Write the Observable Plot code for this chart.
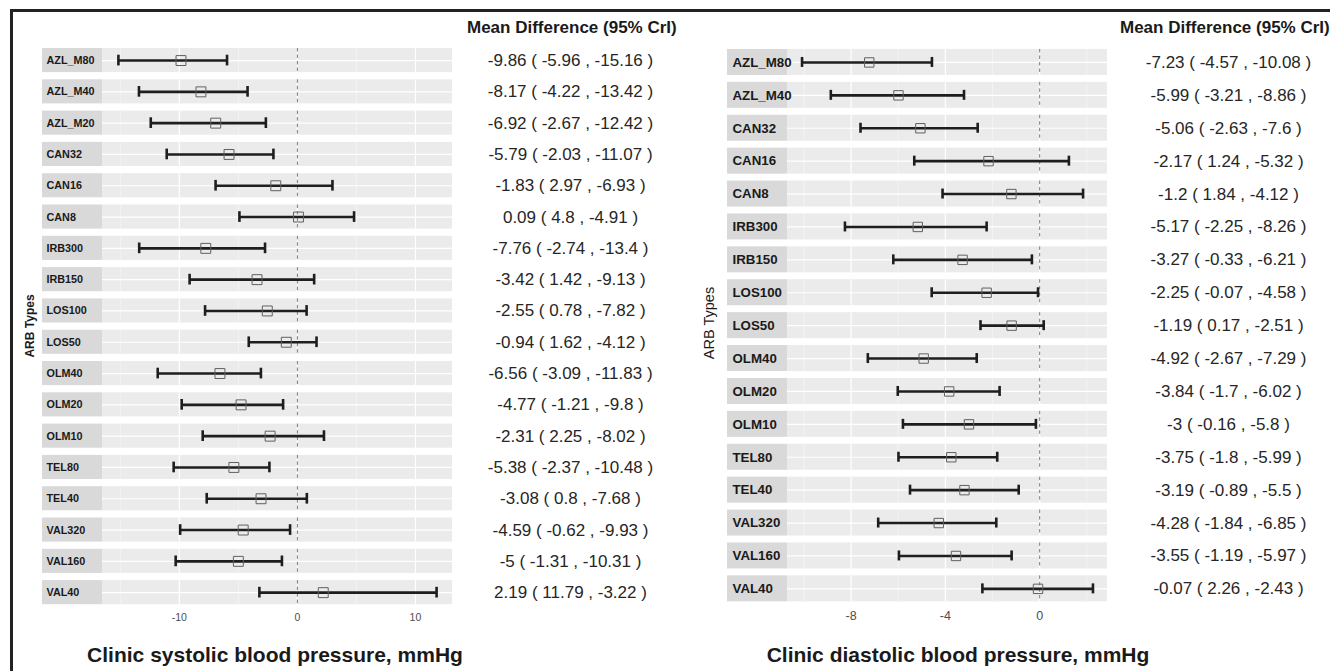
<!DOCTYPE html>
<html>
<head>
<meta charset="utf-8">
<script src="https://cdn.jsdelivr.net/npm/d3@7"></script>
<script src="https://cdn.jsdelivr.net/npm/@observablehq/plot@0.6"></script>
<style>
  body { margin: 0; background: #fff; font-family: "Liberation Sans", Arial, sans-serif; }
  #root { position: relative; width: 1330px; height: 671px; overflow: hidden; background: #fff; }
  .abs { position: absolute; }
  .frame { position: absolute; left: 10px; top: 9px; width: 1400px; height: 800px;
           border-top: 3px solid #222; border-left: 3px solid #222; box-sizing: border-box; }
  .hdr { position: absolute; font-weight: bold; font-size: 17px; line-height: 1; color: #1a1a1a; white-space: nowrap; }
  .ttl { position: absolute; font-weight: bold; font-size: 21px; line-height: 1; color: #1a1a1a; white-space: nowrap; transform: translateX(-50%); }
  .ylab { position: absolute; white-space: nowrap; line-height: 1; color: #1a1a1a; transform: translate(-50%, -50%) rotate(-90deg); }
</style>
</head>
<body>
<div id="root">
  <div class="frame"></div>
</div>
<script>
// ---------------- data ----------------
const sysNames = ["AZL_M80","AZL_M40","AZL_M20","CAN32","CAN16","CAN8","IRB300","IRB150","LOS100","LOS50","OLM40","OLM20","OLM10","TEL80","TEL40","VAL320","VAL160","VAL40"];
const sysMean  = [-9.86,-8.17,-6.92,-5.79,-1.83,0.09,-7.76,-3.42,-2.55,-0.94,-6.56,-4.77,-2.31,-5.38,-3.08,-4.59,-5,2.19];
const sysUpper = [-5.96,-4.22,-2.67,-2.03,2.97,4.8,-2.74,1.42,0.78,1.62,-3.09,-1.21,2.25,-2.37,0.8,-0.62,-1.31,11.79];
const sysLower = [-15.16,-13.42,-12.42,-11.07,-6.93,-4.91,-13.4,-9.13,-7.82,-4.12,-11.83,-9.8,-8.02,-10.48,-7.68,-9.93,-10.31,-3.22];
const sysTicks = [-10, 0, 10];
const sysMinor = [-15, -5, 5, 15];

const diaNames = ["AZL_M80","AZL_M40","CAN32","CAN16","CAN8","IRB300","IRB150","LOS100","LOS50","OLM40","OLM20","OLM10","TEL80","TEL40","VAL320","VAL160","VAL40"];
const diaMean  = [-7.23,-5.99,-5.06,-2.17,-1.2,-5.17,-3.27,-2.25,-1.19,-4.92,-3.84,-3,-3.75,-3.19,-4.28,-3.55,-0.07];
const diaUpper = [-4.57,-3.21,-2.63,1.24,1.84,-2.25,-0.33,-0.07,0.17,-2.67,-1.7,-0.16,-1.8,-0.89,-1.84,-1.19,2.26];
const diaLower = [-10.08,-8.86,-7.6,-5.32,-4.12,-8.26,-6.21,-4.58,-2.51,-7.29,-6.02,-5.8,-5.99,-5.5,-6.85,-5.97,-2.43];
const diaTicks = [-8, -4, 0];
const diaMinor = [-10, -6, -2, 2];

const refValue = 0;
const columnHeader = "Mean Difference (95% CrI)";
const yTitle = "ARB Types";
const sysTitle = "Clinic systolic blood pressure, mmHg";
const diaTitle = "Clinic diastolic blood pressure, mmHg";

// ---------------- drawing ----------------
const FONT = '"Liberation Sans", Arial, sans-serif';
const root = document.getElementById("root");

function place(el, left, top, z) {
  const d = document.createElement("div");
  d.className = "abs";
  d.style.left = left + "px";
  d.style.top = top + "px";
  if (z != null) d.style.zIndex = z;
  d.appendChild(el);
  root.appendChild(d);
}
function addText(cls, text, left, top, extra) {
  const d = document.createElement("div");
  d.className = cls;
  d.textContent = text;
  d.style.left = left + "px";
  d.style.top = top + "px";
  Object.assign(d.style, extra || {});
  root.appendChild(d);
}

function drawPanel(cfg) {
  const rows = cfg.names.map((n, i) => ({name: n, mean: cfg.mean[i], hi: cfg.upper[i], lo: cfg.lower[i]}));
  const lo = d3.min(cfg.lower), hi = d3.max(cfg.upper);
  const span = hi - lo;
  const domain = [lo - 0.05 * span, hi + 0.05 * span];
  const minor = cfg.minor.filter(v => v >= domain[0] && v <= domain[1]);
  const majorGrid = d3.cross(cfg.names, cfg.ticks).map(([name, v]) => ({name, v}));
  const minorGrid = d3.cross(cfg.names, minor).map(([name, v]) => ({name, v}));

  const yOpts = {domain: cfg.names, paddingInner: cfg.pad, paddingOuter: cfg.pad / 2, round: false, axis: null, label: null};
  const common = {height: cfg.height, marginTop: cfg.mTop, marginBottom: cfg.mBottom, marginLeft: 0, marginRight: 0};

  // panel
  const panel = Plot.plot({
    ...common, width: cfg.panelW,
    style: {background: "transparent", fontFamily: FONT, fontSize: cfg.tickFont + "px", color: "#4d4d4d", overflow: "visible"},
    x: {domain, ticks: cfg.ticks, tickSize: 0, tickPadding: cfg.tickPad, tickFormat: d => String(d), label: null},
    y: yOpts,
    marks: [
      Plot.barX(rows, {y: "name", x1: () => domain[0], x2: () => domain[1], fill: "#ebebeb"}),
      Plot.tickX(minorGrid, {x: "v", y: "name", stroke: "#f7f7f7", strokeWidth: 0.7}),
      Plot.tickX(majorGrid, {x: "v", y: "name", stroke: "#ffffff", strokeWidth: 1.2}),
      Plot.ruleY(rows, {y: "name", stroke: "#ffffff", strokeWidth: 1.2}),
      Plot.tickX(rows, {x: () => refValue, y: "name", stroke: "#7a7a7a", strokeWidth: 1, strokeDasharray: "3.5,3"}),
      Plot.ruleY(rows, {y: "name", x1: "lo", x2: "hi", stroke: "#1e1e1e", strokeWidth: 2.6}),
      Plot.tickX(rows, {x: "lo", y: "name", insetTop: cfg.capInset, insetBottom: cfg.capInset, stroke: "#1e1e1e", strokeWidth: 2.6}),
      Plot.tickX(rows, {x: "hi", y: "name", insetTop: cfg.capInset, insetBottom: cfg.capInset, stroke: "#1e1e1e", strokeWidth: 2.6}),
      Plot.dot(rows, {x: "mean", y: "name", symbol: "square", r: cfg.dotR, stroke: "#606060", fill: "none", strokeWidth: 1})
    ]
  });
  place(panel, cfg.panelX, 0, 1);

  // strip (on top so long labels can spill into the panel)
  const strip = Plot.plot({
    ...common, width: cfg.stripW,
    style: {background: "transparent", fontFamily: FONT, overflow: "visible"},
    y: yOpts,
    marks: [
      Plot.cell(rows, {y: "name", fill: "#d9d9d9"}),
      Plot.text(rows, {y: "name", text: "name", frameAnchor: "left", textAnchor: "start", dx: cfg.stripDx,
                       fontWeight: "bold", fontSize: cfg.stripFont, fill: "#1a1a1a"})
    ]
  });
  place(strip, cfg.stripX, 0, 2);

  // values column
  const vals = Plot.plot({
    ...common, width: cfg.valW,
    style: {background: "transparent", fontFamily: FONT, overflow: "visible"},
    y: yOpts,
    marks: [
      Plot.text(rows, {y: "name", text: d => `${d.mean} ( ${d.hi} , ${d.lo} )`, frameAnchor: "middle",
                       fontSize: 17, fill: "#262626"})
    ]
  });
  place(vals, cfg.valX, 0, 1);
}

drawPanel({
  names: sysNames, mean: sysMean, upper: sysUpper, lower: sysLower, ticks: sysTicks, minor: sysMinor,
  height: 640, mTop: 44.4, mBottom: 32.2, pad: 0.23, capInset: 6.7, dotR: 5.6,
  stripX: 42, stripW: 60, stripDx: 4, stripFont: 10.8,
  panelX: 102, panelW: 350, tickFont: 10.5, tickPad: 5,
  valX: 470, valW: 200
});
drawPanel({
  names: diaNames, mean: diaMean, upper: diaUpper, lower: diaLower, ticks: diaTicks, minor: diaMinor,
  height: 640, mTop: 45.5, mBottom: 35.2, pad: 0.21, capInset: 8, dotR: 5.3,
  stripX: 727, stripW: 60, stripDx: 5, stripFont: 13.3,
  panelX: 787, panelW: 320, tickFont: 12.5, tickPad: 6,
  valX: 1128, valW: 200
});

// headers, titles, axis labels
addText("hdr", columnHeader, 467, 18.6);
addText("hdr", columnHeader, 1120, 18.6);
addText("ttl", sysTitle, 275, 644.2);
addText("ttl", diaTitle, 958, 644.2);
addText("ylab", yTitle, 30, 326, {fontWeight: "bold", fontSize: "12px"});
addText("ylab", yTitle, 709, 323, {fontWeight: "normal", fontSize: "14.5px"});
</script>
</body>
</html>
